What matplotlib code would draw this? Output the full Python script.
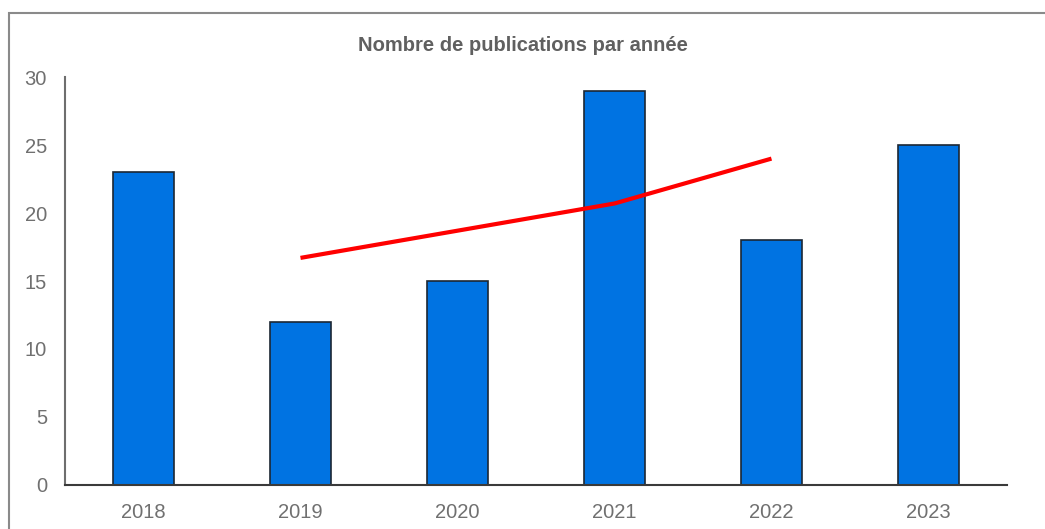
import matplotlib.pyplot as plt
from matplotlib.patches import Rectangle
import numpy as np

years = ['2018', '2019', '2020', '2021', '2022', '2023']
publications = [23, 12, 15, 29, 18, 25]

# trend line (red)
trend_years = ['2019', '2020', '2021', '2022']
trend_values = [16.7, 18.7, 20.7, 24.0]

plt.rcParams['font.family'] = ['Liberation Sans', 'DejaVu Sans']

fig = plt.figure(figsize=(10.45, 5.29), dpi=100)
ax = fig.add_axes([0.0622, 0.0832, 0.9014, 0.7712])

x = np.arange(len(years))
ax.bar(x, publications, width=0.39, color='#0073E2', edgecolor='#1c2733', linewidth=1.2, zorder=2)

tx = [years.index(y) for y in trend_years]
ax.plot(tx, trend_values, color='#FF0000', linewidth=3, solid_capstyle='butt', zorder=3)

ax.set_xlim(-0.5, len(years) - 0.5)
ax.set_ylim(0, 30)
ax.set_yticks(range(0, 31, 5))
ax.set_xticks(x)
ax.set_xticklabels(years)

for s in ['top', 'right']:
    ax.spines[s].set_visible(False)
ax.spines['left'].set_color('#6e6e6e')
ax.spines['left'].set_linewidth(1.5)
ax.spines['bottom'].set_color('#3a3a3a')
ax.spines['bottom'].set_linewidth(1.5)
ax.tick_params(axis='both', length=0, labelsize=14.5, labelcolor='#707070')
ax.tick_params(axis='y', pad=13)
ax.tick_params(axis='x', pad=13)

fig.text(0.5, 1 - 46 / 529, 'Nombre de publications par année', ha='center', va='center',
         fontsize=14.5, fontweight='bold', color='#606060')

# outer frame
fig.patches.append(Rectangle((9 / 1045, -0.1), 1.2, 1 - 13 / 529 + 0.1, transform=fig.transFigure,
                             fill=False, edgecolor='#8a8a8a', linewidth=1.5))

fig.savefig('out.png', dpi=100)
